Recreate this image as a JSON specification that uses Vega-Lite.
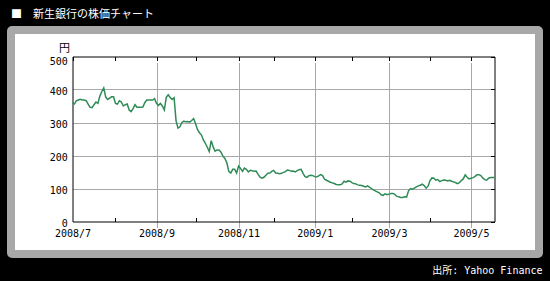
{
  "$schema": "https://vega.github.io/schema/vega-lite/v6.json",
  "width": 528,
  "height": 224,
  "autosize": {"type": "none"},
  "padding": {"left": 11, "top": 30, "right": 11, "bottom": 27},
  "background": "black",
  "title": {
    "text": "■　新生銀行の株価チャート",
    "anchor": "start",
    "frame": "group",
    "color": "white",
    "font": "Noto Sans CJK JP",
    "fontSize": 11,
    "fontWeight": "normal",
    "baseline": "alphabetic",
    "offset": 1,
    "dx": 0
  },
  "config": {
    "view": {"fill": "white", "stroke": "#a8a8a8", "strokeWidth": 8, "cornerRadius": 1},
    "axis": {
      "domainColor": "black",
      "domainWidth": 1,
      "tickColor": "black",
      "tickWidth": 1,
      "tickSize": -4,
      "labelFont": "DejaVu Sans Mono",
      "labelFontSize": 10,
      "labelColor": "black",
      "labelFlush": false,
      "labelOverlap": false,
      "gridColor": "#a8a8a8",
      "gridWidth": 1
    }
  },
  "data": {
    "values": [
      {"date": "2008-07-01", "price": 360}, {"date": "2008-07-02", "price": 356}, {"date": "2008-07-03", "price": 366},
      {"date": "2008-07-04", "price": 368}, {"date": "2008-07-07", "price": 370}, {"date": "2008-07-08", "price": 368},
      {"date": "2008-07-09", "price": 368}, {"date": "2008-07-10", "price": 366}, {"date": "2008-07-11", "price": 356},
      {"date": "2008-07-14", "price": 346}, {"date": "2008-07-15", "price": 345}, {"date": "2008-07-16", "price": 354},
      {"date": "2008-07-17", "price": 362}, {"date": "2008-07-18", "price": 358}, {"date": "2008-07-22", "price": 380},
      {"date": "2008-07-23", "price": 394}, {"date": "2008-07-24", "price": 405}, {"date": "2008-07-25", "price": 377},
      {"date": "2008-07-28", "price": 370}, {"date": "2008-07-29", "price": 374}, {"date": "2008-07-30", "price": 378},
      {"date": "2008-07-31", "price": 378}, {"date": "2008-08-01", "price": 358}, {"date": "2008-08-04", "price": 356},
      {"date": "2008-08-05", "price": 366}, {"date": "2008-08-06", "price": 362}, {"date": "2008-08-07", "price": 350},
      {"date": "2008-08-08", "price": 354}, {"date": "2008-08-11", "price": 356}, {"date": "2008-08-12", "price": 338},
      {"date": "2008-08-13", "price": 333}, {"date": "2008-08-14", "price": 342}, {"date": "2008-08-15", "price": 354},
      {"date": "2008-08-18", "price": 346}, {"date": "2008-08-19", "price": 346}, {"date": "2008-08-20", "price": 346},
      {"date": "2008-08-21", "price": 347}, {"date": "2008-08-22", "price": 360}, {"date": "2008-08-25", "price": 368},
      {"date": "2008-08-26", "price": 368}, {"date": "2008-08-27", "price": 368}, {"date": "2008-08-28", "price": 368},
      {"date": "2008-08-29", "price": 372}, {"date": "2008-09-01", "price": 358}, {"date": "2008-09-02", "price": 352},
      {"date": "2008-09-03", "price": 358}, {"date": "2008-09-04", "price": 350}, {"date": "2008-09-05", "price": 338},
      {"date": "2008-09-08", "price": 376}, {"date": "2008-09-09", "price": 384}, {"date": "2008-09-10", "price": 376},
      {"date": "2008-09-11", "price": 370}, {"date": "2008-09-12", "price": 375}, {"date": "2008-09-16", "price": 305},
      {"date": "2008-09-17", "price": 283}, {"date": "2008-09-18", "price": 287}, {"date": "2008-09-19", "price": 300},
      {"date": "2008-09-22", "price": 304}, {"date": "2008-09-24", "price": 302}, {"date": "2008-09-25", "price": 303},
      {"date": "2008-09-26", "price": 301}, {"date": "2008-09-29", "price": 306}, {"date": "2008-09-30", "price": 312},
      {"date": "2008-10-01", "price": 296}, {"date": "2008-10-02", "price": 278}, {"date": "2008-10-03", "price": 269},
      {"date": "2008-10-06", "price": 262}, {"date": "2008-10-07", "price": 247}, {"date": "2008-10-08", "price": 237},
      {"date": "2008-10-09", "price": 225}, {"date": "2008-10-10", "price": 212}, {"date": "2008-10-14", "price": 245},
      {"date": "2008-10-15", "price": 226}, {"date": "2008-10-16", "price": 213}, {"date": "2008-10-17", "price": 217},
      {"date": "2008-10-20", "price": 217}, {"date": "2008-10-21", "price": 210}, {"date": "2008-10-22", "price": 198},
      {"date": "2008-10-23", "price": 191}, {"date": "2008-10-24", "price": 178}, {"date": "2008-10-27", "price": 152},
      {"date": "2008-10-28", "price": 147}, {"date": "2008-10-29", "price": 158}, {"date": "2008-10-30", "price": 158},
      {"date": "2008-10-31", "price": 147}, {"date": "2008-11-04", "price": 168}, {"date": "2008-11-05", "price": 161},
      {"date": "2008-11-06", "price": 152}, {"date": "2008-11-07", "price": 162}, {"date": "2008-11-10", "price": 158},
      {"date": "2008-11-11", "price": 150}, {"date": "2008-11-12", "price": 155}, {"date": "2008-11-13", "price": 154},
      {"date": "2008-11-14", "price": 152}, {"date": "2008-11-17", "price": 153}, {"date": "2008-11-18", "price": 143},
      {"date": "2008-11-19", "price": 134}, {"date": "2008-11-20", "price": 131}, {"date": "2008-11-21", "price": 134},
      {"date": "2008-11-25", "price": 140}, {"date": "2008-11-26", "price": 146}, {"date": "2008-11-27", "price": 147},
      {"date": "2008-11-28", "price": 152}, {"date": "2008-12-01", "price": 155}, {"date": "2008-12-02", "price": 147},
      {"date": "2008-12-03", "price": 146}, {"date": "2008-12-04", "price": 145}, {"date": "2008-12-05", "price": 146},
      {"date": "2008-12-08", "price": 149}, {"date": "2008-12-09", "price": 151}, {"date": "2008-12-10", "price": 156},
      {"date": "2008-12-11", "price": 155}, {"date": "2008-12-12", "price": 152}, {"date": "2008-12-15", "price": 153},
      {"date": "2008-12-16", "price": 150}, {"date": "2008-12-17", "price": 154}, {"date": "2008-12-18", "price": 157},
      {"date": "2008-12-19", "price": 158}, {"date": "2008-12-22", "price": 146}, {"date": "2008-12-24", "price": 136},
      {"date": "2008-12-25", "price": 134}, {"date": "2008-12-26", "price": 139}, {"date": "2008-12-29", "price": 140},
      {"date": "2008-12-30", "price": 139}, {"date": "2009-01-05", "price": 136}, {"date": "2009-01-06", "price": 135},
      {"date": "2009-01-07", "price": 138}, {"date": "2009-01-08", "price": 142}, {"date": "2009-01-09", "price": 139},
      {"date": "2009-01-13", "price": 128}, {"date": "2009-01-14", "price": 125}, {"date": "2009-01-15", "price": 122},
      {"date": "2009-01-16", "price": 119}, {"date": "2009-01-19", "price": 117}, {"date": "2009-01-20", "price": 115},
      {"date": "2009-01-21", "price": 112}, {"date": "2009-01-22", "price": 111}, {"date": "2009-01-23", "price": 111},
      {"date": "2009-01-26", "price": 114}, {"date": "2009-01-27", "price": 122}, {"date": "2009-01-28", "price": 119},
      {"date": "2009-01-29", "price": 123}, {"date": "2009-01-30", "price": 122}, {"date": "2009-02-02", "price": 118},
      {"date": "2009-02-03", "price": 115}, {"date": "2009-02-04", "price": 114}, {"date": "2009-02-05", "price": 111},
      {"date": "2009-02-06", "price": 110}, {"date": "2009-02-09", "price": 109}, {"date": "2009-02-10", "price": 107},
      {"date": "2009-02-12", "price": 105}, {"date": "2009-02-13", "price": 108}, {"date": "2009-02-16", "price": 104},
      {"date": "2009-02-17", "price": 100}, {"date": "2009-02-18", "price": 96}, {"date": "2009-02-19", "price": 93},
      {"date": "2009-02-20", "price": 90}, {"date": "2009-02-23", "price": 87}, {"date": "2009-02-24", "price": 81},
      {"date": "2009-02-25", "price": 79}, {"date": "2009-02-26", "price": 84}, {"date": "2009-02-27", "price": 81},
      {"date": "2009-03-02", "price": 83}, {"date": "2009-03-03", "price": 85}, {"date": "2009-03-04", "price": 85},
      {"date": "2009-03-05", "price": 82}, {"date": "2009-03-06", "price": 76}, {"date": "2009-03-09", "price": 75},
      {"date": "2009-03-10", "price": 73}, {"date": "2009-03-11", "price": 73}, {"date": "2009-03-12", "price": 75},
      {"date": "2009-03-13", "price": 74}, {"date": "2009-03-16", "price": 93}, {"date": "2009-03-17", "price": 100},
      {"date": "2009-03-18", "price": 98}, {"date": "2009-03-19", "price": 101}, {"date": "2009-03-23", "price": 105},
      {"date": "2009-03-24", "price": 108}, {"date": "2009-03-25", "price": 110}, {"date": "2009-03-26", "price": 113},
      {"date": "2009-03-27", "price": 109}, {"date": "2009-03-30", "price": 101}, {"date": "2009-03-31", "price": 107},
      {"date": "2009-04-01", "price": 124}, {"date": "2009-04-02", "price": 132}, {"date": "2009-04-03", "price": 131},
      {"date": "2009-04-06", "price": 125}, {"date": "2009-04-07", "price": 127}, {"date": "2009-04-08", "price": 121},
      {"date": "2009-04-09", "price": 124}, {"date": "2009-04-10", "price": 126}, {"date": "2009-04-13", "price": 125},
      {"date": "2009-04-14", "price": 123}, {"date": "2009-04-15", "price": 125}, {"date": "2009-04-16", "price": 122},
      {"date": "2009-04-17", "price": 120}, {"date": "2009-04-20", "price": 118}, {"date": "2009-04-21", "price": 115},
      {"date": "2009-04-22", "price": 118}, {"date": "2009-04-23", "price": 124}, {"date": "2009-04-24", "price": 129},
      {"date": "2009-04-27", "price": 141}, {"date": "2009-04-28", "price": 134}, {"date": "2009-04-30", "price": 129},
      {"date": "2009-05-01", "price": 131}, {"date": "2009-05-07", "price": 133}, {"date": "2009-05-08", "price": 136},
      {"date": "2009-05-11", "price": 142}, {"date": "2009-05-12", "price": 142}, {"date": "2009-05-13", "price": 139},
      {"date": "2009-05-14", "price": 132}, {"date": "2009-05-15", "price": 127}, {"date": "2009-05-18", "price": 125},
      {"date": "2009-05-19", "price": 131}, {"date": "2009-05-20", "price": 133}, {"date": "2009-05-21", "price": 133},
      {"date": "2009-05-22", "price": 133}
    ]
  },
  "layer": [
    {
      "mark": {"type": "line", "opacity": 0},
      "encoding": {
        "x": {
          "field": "date",
          "type": "ordinal",
          "scale": {"type": "point", "padding": 0, "range": [61.5, 483.5]},
          "axis": {
            "orient": "top",
            "offset": -26.5,
            "values": ["2008-07-01", "2008-08-01", "2008-09-01", "2008-10-01", "2008-11-04", "2008-12-01", "2009-01-05", "2009-02-02", "2009-03-02", "2009-04-01", "2009-05-01"],
            "labels": false,
            "grid": false,
            "title": null
          }
        },
        "y": {
          "field": "price",
          "type": "quantitative",
          "scale": {"domain": [0, 500], "range": [191.5, 26.5], "nice": false, "zero": false},
          "axis": {
            "orient": "right",
            "offset": -44.5,
            "values": [0, 100, 200, 300, 400, 500],
            "labels": false,
            "grid": false,
            "title": null
          }
        }
      }
    },
    {
      "mark": {"type": "line", "color": "#2e8b57", "strokeWidth": 1.5},
      "encoding": {
        "x": {
          "field": "date",
          "type": "ordinal",
          "scale": {"type": "point", "padding": 0, "range": [61.5, 483.5]},
          "axis": {
            "orient": "bottom",
            "offset": -32.5,
            "values": ["2008-07-01", "2008-08-01", "2008-09-01", "2008-10-01", "2008-11-04", "2008-12-01", "2009-01-05", "2009-02-02", "2009-03-02", "2009-04-01", "2009-05-01"],
            "labelExpr": "toNumber(slice(datum.value, 5, 7)) % 2 == 1 ? slice(datum.value, 0, 4) + '/' + toNumber(slice(datum.value, 5, 7)) : ''",
            "labelAngle": 0,
            "labelAlign": "center",
            "labelBaseline": "top",
            "labelPadding": 10.5,
            "tickOpacity": {"condition": {"test": "toNumber(slice(datum.value, 5, 7)) % 2 == 1", "value": 0}, "value": 1},
            "grid": true,
            "gridOpacity": {"condition": {"test": "datum.value != '2008-07-01' && toNumber(slice(datum.value, 5, 7)) % 2 == 1", "value": 1}, "value": 0},
            "title": "出所: Yahoo Finance",
            "titleX": 531,
            "titleY": 51.5,
            "titleAlign": "right",
            "titleAnchor": null,
            "titleBaseline": "alphabetic",
            "titleColor": "white",
            "titleFont": "DejaVu Sans Mono, Noto Sans CJK JP",
            "titleFontSize": 10,
            "titleFontWeight": "normal"
          }
        },
        "y": {
          "field": "price",
          "type": "quantitative",
          "scale": {"domain": [0, 500], "range": [191.5, 26.5], "nice": false, "zero": false},
          "axis": {
            "orient": "left",
            "offset": -61.5,
            "values": [0, 100, 200, 300, 400, 500],
            "ticks": false,
            "labelPadding": 5.2,
            "labelBaseline": {"condition": {"test": "datum.value == 500", "value": "top"}, "value": "middle"},
            "labelOffset": {"condition": {"test": "datum.value == 500", "value": 0}, "value": 2},
            "grid": true,
            "gridOpacity": {"condition": {"test": "datum.value > 0 && datum.value < 500", "value": 1}, "value": 0},
            "title": "円",
            "titleAngle": 0,
            "titleX": -8.5,
            "titleY": 21,
            "titleAlign": "center",
            "titleBaseline": "alphabetic",
            "titleColor": "black",
            "titleFont": "Noto Sans CJK JP",
            "titleFontSize": 11,
            "titleFontWeight": "normal"
          }
        }
      }
    }
  ],
  "resolve": {"axis": {"x": "independent", "y": "independent"}}
}
